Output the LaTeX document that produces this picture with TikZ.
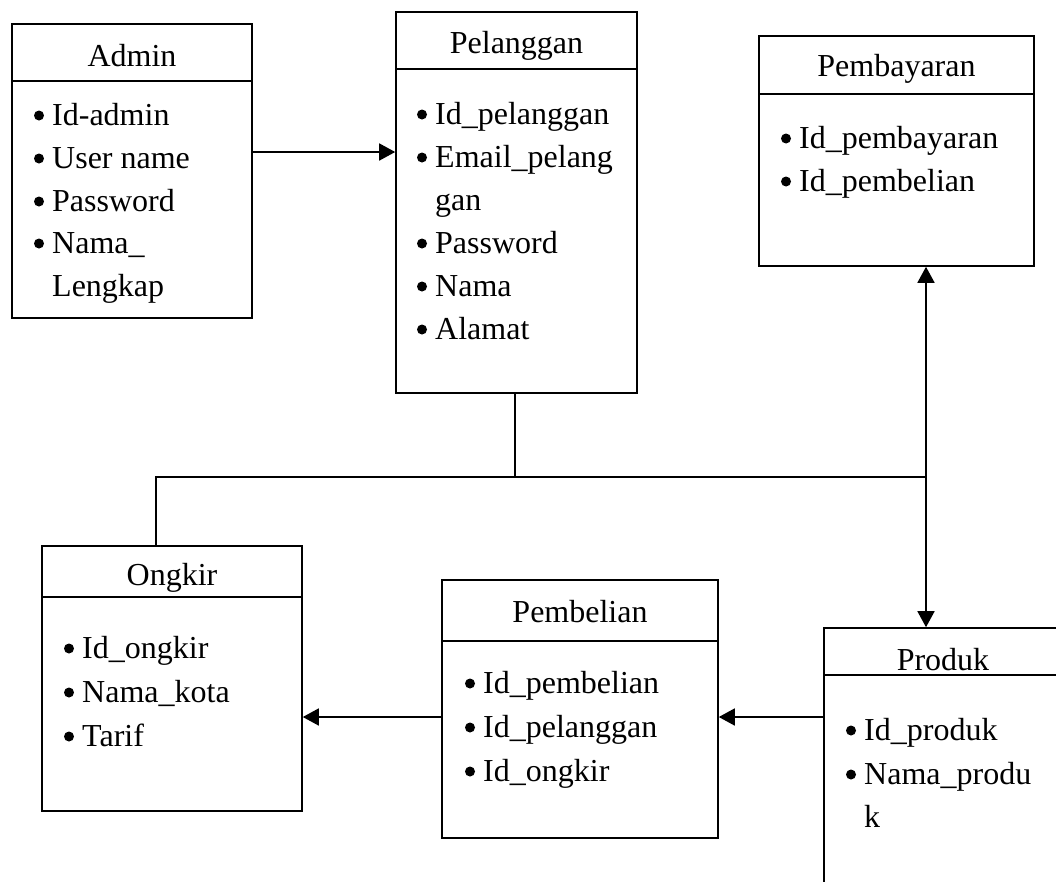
\documentclass[tikz,border=0pt]{standalone}
\usepackage{fontspec}
\setmainfont{Liberation Serif}
\usetikzlibrary{arrows.meta}

% one attribute line: round bullet to the left of the text start (#2,#3 = text start, baseline)
\newcommand\attr[4]{%
  \fill ({#2-13},{#3-9.5}) circle (5pt);
  \node[attrtext] (#1) at (#2,#3) {#4};}
% continuation line of a wrapped attribute (no bullet)
\newcommand\cont[4]{\node[attrtext] (#1) at (#2,#3) {#4};}

\begin{document}
\begin{tikzpicture}[x=1pt,y=-1pt,
  ent/.style={draw=black, line width=1.6pt, fill=white, rectangle, inner sep=0pt},
  title/.style={anchor=base, inner sep=0pt, font=\fontsize{32pt}{38pt}\selectfont},
  attrtext/.style={anchor=base west, inner sep=0pt, font=\fontsize{32pt}{38pt}\selectfont},
  conn/.style={line width=1.6pt},
  arr/.style={line width=1.6pt, -{Triangle[length=16pt,width=17pt]}}
]
\fill[white] (0,0) rectangle (1056,881);
\useasboundingbox (0,0) rectangle (1056,881);
\clip (0,0) rectangle (1056,881);

% ---------- Admin ----------
\node[ent, minimum width=240pt, minimum height=294pt] (admin) at (132,171) {};
\draw[conn] (admin.west |- 0,81) -- (admin.east |- 0,81);
\node[title] (admin-t) at (132,66) {Admin};
\attr{admin-1}{52}{125}{Id-admin}
\attr{admin-2}{52}{168}{User name}
\attr{admin-3}{52}{211}{Password}
\attr{admin-4}{52}{253}{Nama\_}
\cont{admin-4b}{52}{296}{Lengkap}

% ---------- Pelanggan ----------
\node[ent, minimum width=241pt, minimum height=381pt] (pel) at (516.5,202.5) {};
\draw[conn] (pel.west |- 0,69) -- (pel.east |- 0,69);
\node[title] (pel-t) at (516.5,53) {Pelanggan};
\attr{pel-1}{435}{124}{Id\_pelanggan}
\attr{pel-2}{435}{167}{Email\_pelang}
\cont{pel-2b}{435}{210}{gan}
\attr{pel-3}{435}{253}{Password}
\attr{pel-4}{435}{296}{Nama}
\attr{pel-5}{435}{339}{Alamat}

% ---------- Pembayaran ----------
\node[ent, minimum width=275pt, minimum height=230pt] (pay) at (896.5,151) {};
\draw[conn] (pay.west |- 0,94) -- (pay.east |- 0,94);
\node[title] (pay-t) at (896.5,76) {Pembayaran};
\attr{pay-1}{799}{148}{Id\_pembayaran}
\attr{pay-2}{799}{191}{Id\_pembelian}

% ---------- Ongkir ----------
\node[ent, minimum width=260pt, minimum height=265pt] (ong) at (172,678.5) {};
\draw[conn] (ong.west |- 0,597) -- (ong.east |- 0,597);
\node[title] (ong-t) at (172,585) {Ongkir};
\attr{ong-1}{82}{658}{Id\_ongkir}
\attr{ong-2}{82}{702}{Nama\_kota}
\attr{ong-3}{82}{746}{Tarif}

% ---------- Pembelian ----------
\node[ent, minimum width=276pt, minimum height=258pt] (pbl) at (580,709) {};
\draw[conn] (pbl.west |- 0,641) -- (pbl.east |- 0,641);
\node[title] (pbl-t) at (580,622) {Pembelian};
\attr{pbl-1}{483}{693}{Id\_pembelian}
\attr{pbl-2}{483}{737}{Id\_pelanggan}
\attr{pbl-3}{483}{781}{Id\_ongkir}

% ---------- Produk (runs past the page edge) ----------
\node[ent, minimum width=238pt, minimum height=332pt] (prod) at (943,794) {};
\draw[conn] (prod.west |- 0,675) -- (prod.east |- 0,675);
\node[title] (prod-t) at (943,670) {Produk};
\attr{prod-1}{864}{740}{Id\_produk}
\attr{prod-2}{864}{784}{Nama\_produ}
\cont{prod-2b}{864}{827}{k}

% ---------- connectors ----------
\coordinate (r1) at (0,152);
\coordinate (r2) at (0,717);
\coordinate (jL) at (156,477);
\coordinate (jM) at (515,477);
\coordinate (jR) at (926,477);

\draw[arr] (admin.east |- r1) -- (pel.west |- r1);
\draw[conn] (pel.south -| jM) -- (jM);
\draw[conn] (ong.north -| jL) -- (jL) -- (jR);
\draw[arr] (jR) -- (pay.south -| jR);
\draw[arr] (jR) -- (prod.north -| jR);
\draw[arr] (pbl.west |- r2) -- (ong.east |- r2);
\draw[arr] (prod.west |- r2) -- (pbl.east |- r2);
\end{tikzpicture}
\end{document}
